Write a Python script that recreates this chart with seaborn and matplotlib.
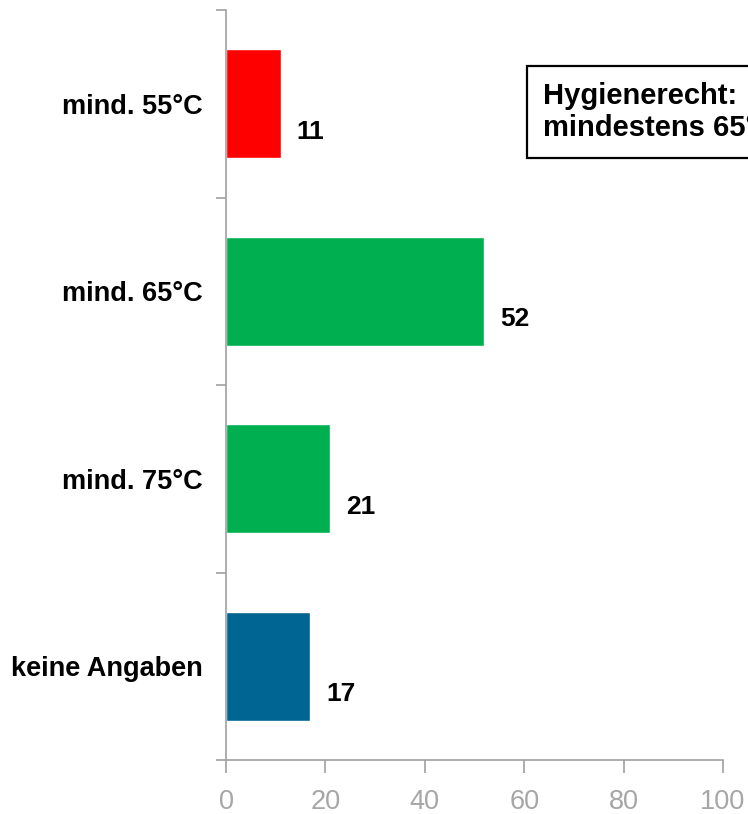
import matplotlib
matplotlib.use('Agg')
import matplotlib.pyplot as plt
import seaborn as sns
import pandas as pd

categories = ['mind. 55°C', 'mind. 65°C', 'mind. 75°C', 'keine Angaben']
values = [11, 52, 21, 17]
colors = ['#FF0000', '#00B050', '#00B050', '#006593']
box_text = 'Hygienerecht:\nmindestens 65°C'

sns.set_style('white')
plt.rcParams['font.family'] = ['Liberation Sans', 'DejaVu Sans']

df = pd.DataFrame({'cat': categories, 'val': values})

fig = plt.figure(figsize=(7.48, 8.14), dpi=100)
ax = fig.add_axes([226 / 748, 54 / 814, 497 / 748, 750 / 814])

sns.barplot(data=df, x='val', y='cat', hue='cat', palette=colors, orient='h',
            width=0.58, legend=False, ax=ax, saturation=1)

for i, v in enumerate(values):
    ax.text(v + 3.2, i + 0.15, str(v), fontsize=19, fontweight='bold',
            ha='left', va='center', color='black')

ax.set_xlim(0, 100)
ax.set_ylim(3.5, -0.5)
ax.set_xticks([0, 20, 40, 60, 80, 100])
ax.tick_params(axis='x', colors='#A0A0A0', labelcolor='#A6A6A6', labelsize=19.5,
               length=9, width=1.2, direction='out', bottom=True, pad=12)
ax.set_yticks([0, 1, 2, 3])
ax.set_yticklabels(categories, fontsize=19.5, fontweight='bold', color='black')
ax.set_yticks([-0.5, 0.5, 1.5, 2.5, 3.5], minor=True)
ax.tick_params(axis='y', which='major', length=0, pad=17)
ax.tick_params(axis='y', which='minor', length=7, width=1.2, color='#A0A0A0',
               direction='out', left=True)
ax.set_xlabel('')
ax.set_ylabel('')
for s in ['top', 'right']:
    ax.spines[s].set_visible(False)
for s in ['left', 'bottom']:
    ax.spines[s].set_color('#A0A0A0')
    ax.spines[s].set_linewidth(1.2)

fig.text(543 / 748, 1 - 112 / 814, box_text, fontsize=21, fontweight='bold',
         ha='left', va='center', linespacing=1.15, color='black',
         bbox=dict(boxstyle='square,pad=0.55', facecolor='white',
                   edgecolor='black', linewidth=1.6))

fig.savefig('out.png', dpi=100)
